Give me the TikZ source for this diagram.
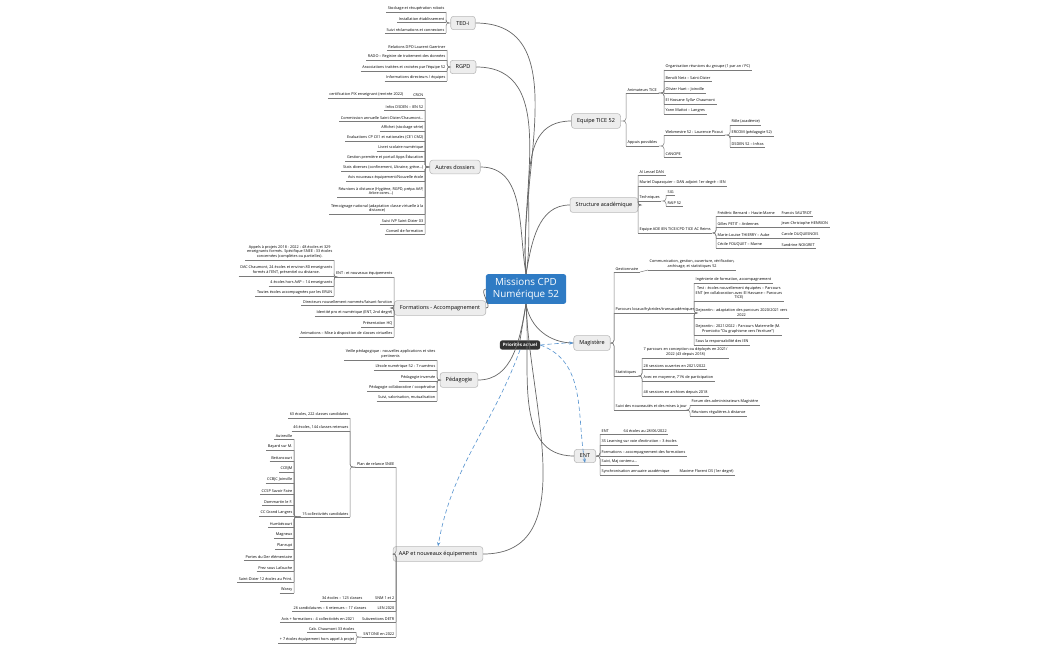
\documentclass[tikz,border=0pt]{standalone}
\usepackage{fontspec}
\setmainfont{Open Sans}
\usetikzlibrary{positioning,arrows.meta}
\definecolor{cpdblue}{HTML}{2F7BC4}
\definecolor{linegray}{HTML}{7A7A7A}
\begin{document}
\begin{tikzpicture}
    [x=0.025cm, y=-0.025cm,
    mainNode/.style={fill=cpdblue, text=white, rounded corners=1.5, align=center,
        font=\fontsize{7}{8.2}\selectfont, inner xsep=5pt, inner ysep=3pt},
    prioNode/.style={fill=black!80, text=white, rounded corners=1.5,
        font=\bfseries\fontsize{3.2}{4}\selectfont, inner sep=2pt},
    topic/.style={draw=gray!55, fill=gray!14, rounded corners=2,
        font=\fontsize{3.9}{4.5}\selectfont, inner xsep=4pt, minimum height=9pt},
    leafL/.style={anchor=south east, align=center, inner sep=1pt,
        font=\fontsize{2.7}{3.2}\selectfont,
        append after command={(\tikzlastnode.south west) edge[linegray, line width=0.35pt] (\tikzlastnode.south east)}},
    leafR/.style={leafL, anchor=south west},
    branch/.style={draw=linegray, line width=0.35pt, rounded corners=2},
    trunk/.style={draw=black!60, line width=0.5pt},
    prio/.style={draw=cpdblue!80, densely dashed, line width=0.45pt, -{Stealth[length=3pt]}}]

    \useasboundingbox (0,0) rectangle (1050,650);

    % centre
    \node[mainNode] (main) at (526,289) {Missions CPD\\Numérique 52};
    \node[prioNode] (prio) at (520,345) {Priorités actuel};

    % thèmes
    \node[topic] (ted) at (463,23) {TED-i};
    \node[topic] (rgpd) at (463,67) {RGPD};
    \node[topic] (autres) at (455,167) {Autres dossiers};
    \node[topic] (form) at (440,308) {Formations - Accompagnement};
    \node[topic] (peda) at (459,380) {Pédagogie};
    \node[topic] (aap) at (438,554) {AAP et nouveaux équipements};
    \node[topic] (tice) at (596,121) {Equipe TICE 52};
    \node[topic] (struct) at (604,205) {Structure académique};
    \node[topic] (magis) at (592,343) {Magistère};
    \node[topic] (ent) at (585,456) {ENT};

    % liens du centre
    \draw[trunk] (main.north) to[out=95,in=0] (ted.east);
    \draw[trunk] (main.north) to[out=95,in=0] (rgpd.east);
    \draw[trunk] (main.north) to[out=100,in=0] (autres.east);
    \draw[trunk] (main.west) to[out=190,in=0] (form.east);
    \draw[trunk] (main.south) to[out=-100,in=0] (peda.east);
    \draw[trunk] (main.south) to[out=-88,in=0] (aap.east);
    \draw[trunk] (main.north) to[out=80,in=180] (tice.west);
    \draw[trunk] (main.north) to[out=80,in=180] (struct.west);
    \draw[trunk] (main.south) to[out=-80,in=180] (magis.west);
    \draw[trunk] (main.south) to[out=-85,in=180] (ent.west);
    \draw[trunk] (main.south) -- (prio.north);

    % priorités
    \draw[prio] (prio.east) to[out=5,in=180] (magis.west);
    \draw[prio] (prio.east) to[out=-20,in=100] (ent.south);
    \draw[prio] (prio.south) to[out=-110,in=80] (aap.north);

    % TED-i
    \node[leafL] (t1) at (446,12) {Stockage et récupération robots};
    \node[leafL] (t2) at (446,22) {Installation établissement};
    \node[leafL] (t3) at (446,33) {Suivi réclamations et connexions};
    \foreach \n in {t1,t2,t3}
        \draw[branch] (ted.west) -| (\n.south east);

    % RGPD
    \node[leafL] (r1) at (447,50) {Relations DPO Laurent Gaertner};
    \node[leafL] (r2) at (447,60) {RADO – Registre de traitement des données};
    \node[leafL] (r3) at (447,71) {Associations traitées et croisées par l'équipe 52};
    \node[leafL] (r4) at (447,81) {Informations directeurs / équipes};
    \foreach \n in {r1,r2,r3,r4}
        \draw[branch] (rgpd.west) -| (\n.south east);

    % Autres dossiers
    \node[leafL] (crcn) at (425,98) {CRCN};
    \node[leafL] (pix) at (405,98) {certification PIX enseignant (rentrée 2022)};
    \draw[branch] (crcn.south west) -- (pix.south east);
    \node[leafL] (a1) at (425,110) {Infos DSDEN – IEN 52};
    \node[leafL] (a2) at (425,121) {Commission annuelle Saint-Dizier/Chaumont…};
    \node[leafL] (a3) at (425,131) {Affichet (stockage série)};
    \node[leafL] (a4) at (425,141) {Evaluations CP CE1 et nationales (CE1 CM2)};
    \node[leafL] (a5) at (425,151) {Livret scolaire numérique};
    \node[leafL] (a6) at (425,161) {Gestion première et portail Apps Éducation};
    \node[leafL] (a7) at (425,171) {Stats diverses (confinement, Ukraine, grève…)};
    \node[leafL] (a8) at (425,181) {Avis nouveaux équipement/Nouvelle école};
    \node[leafL] (a9) at (425,197) {Réunions à distance (Hygiène, RGPD, prépa AAP,\\Arbre ocres…)};
    \node[leafL] (a10) at (425,214) {Témoignage national (adaptation classe virtuelle à la\\distance)};
    \node[leafL] (a11) at (425,224) {Suivi IVP Saint-Dizier 03};
    \node[leafL] (a12) at (425,234) {Conseil de formation};
    \foreach \n in {crcn,a1,a2,a3,a4,a5,a6,a7,a8,a9,a10,a11,a12}
        \draw[branch] (autres.west) -| (\n.south east);

    % Formations - Accompagnement
    \node[leafL] (entn) at (394,277) {ENT : et nouveaux équipements};
    \node[leafL] (e1) at (334,260) {Appels à projets 2018 - 2022 : 48 écoles et 329\\enseignants formés. Spécifique SNEE : 33 écoles\\concernées (complètes ou partielles).};
    \node[leafL] (e2) at (334,276) {DAC Chaumont, 24 écoles et environ 80 enseignants\\formés à l'ENT, présentiel ou distance.};
    \node[leafL] (e3) at (334,286) {4 écoles hors AAP – 14 enseignants};
    \node[leafL] (e4) at (334,296) {Toutes écoles accompagnées par les ERUN};
    \foreach \n in {e1,e2,e3,e4}
        \draw[branch] (entn.south west) -| (\n.south east);
    \node[leafL] (f2) at (394,305) {Directeurs nouvellement nommés/faisant fonction};
    \node[leafL] (f3) at (394,316) {Identité pro et numérique (ENT, 2nd degré)};
    \node[leafL] (f4) at (394,327) {Présentation HQ};
    \node[leafL] (f5) at (394,337) {Animations – Mise à disposition de classes virtuelles};
    \foreach \n in {entn,f2,f3,f4,f5}
        \draw[branch] (form.west) -| (\n.south east);

    % Pédagogie
    \node[leafL] (p1) at (437,360) {Veille pédagogique : nouvelles applications et sites\\pertinents};
    \node[leafL] (p2) at (437,370) {L'école numérique 52 : 7 numéros};
    \node[leafL] (p3) at (437,381) {Pédagogie inversée};
    \node[leafL] (p4) at (437,391) {Pédagogie collaborative / coopérative};
    \node[leafL] (p5) at (437,401) {Suivi, valorisation, mutualisation};
    \foreach \n in {p1,p2,p3,p4,p5}
        \draw[branch] (peda.west) -| (\n.south east);

    % AAP et nouveaux équipements
    \node[leafL] (relance) at (396,467) {Plan de relance SNEE};
    \node[leafL] (s1) at (350,418) {63 écoles, 222 classes candidates};
    \node[leafL] (s2) at (350,431) {46 écoles, 144 classes retenues};
    \node[leafL] (coll) at (350,517) {15 collectivités candidates};
    \foreach \n in {s1,s2,coll}
        \draw[branch] (relance.south west) -| (\n.south east);
    \foreach \y/\t [count=\i] in {439/Autreville, 450/Bayard sur M., 461/Bettancourt, 472/CCBJM,
        483/CCBJC Joinville, 494/CCSP Savoir Faire, 505/Dommartin le F., 516/CC Grand Langres,
        527/Humbécourt, 538/Magneux, 549/Planrupt, 560/Portes du Der élémentaire,
        571/Prez sous Lafauche, 582/Saint-Dizier 12 écoles au Print., 593/Wassy}{
        \node[leafL] (c\i) at (294,\y) {\t};
        \draw[branch] (coll.south west) -| (c\i.south east);
    }
    \node[leafL] (snm) at (396,601) {SNM 1 et 2};
    \node[leafL] (snm1) at (364,601) {34 écoles – 123 classes};
    \node[leafL] (len) at (396,611) {LEN 2020};
    \node[leafL] (len1) at (368,611) {26 candidatures – 6 retenues – 17 classes};
    \node[leafL] (detr) at (396,622) {Subventions DETR};
    \node[leafL] (detr1) at (356,622) {Avis + formations : 4 collectivités en 2021};
    \node[leafL] (snt) at (396,637) {SNT DNE en 2022};
    \node[leafL] (n1) at (356,632) {Cab. Chaumont 33 écoles};
    \node[leafL] (n2) at (356,643) {+ 7 écoles équipement hors appel à projet};
    \draw[branch] (snm.south west) -- (snm1.south east);
    \draw[branch] (len.south west) -- (len1.south east);
    \draw[branch] (detr.south west) -- (detr1.south east);
    \foreach \n in {n1,n2}
        \draw[branch] (snt.south west) -| (\n.south east);
    \foreach \n in {relance,snm,len,detr,snt}
        \draw[branch] (aap.west) -| (\n.south east);

    % Equipe TICE 52
    \node[leafR] (anim) at (626,93) {Animateurs TICE};
    \node[leafR] (i1) at (664,70) {Organisation réunions du groupe (1 par an / PC)};
    \node[leafR] (i2) at (664,81) {Benoît Netz – Saint-Dizier};
    \node[leafR] (i3) at (664,93) {Olivier Huet – Joinville};
    \node[leafR] (i4) at (664,104) {El Hassane Sylla• Chaumont};
    \node[leafR] (i5) at (664,114) {Yann Mattot – Langres};
    \foreach \n in {i1,i2,i3,i4,i5}
        \draw[branch] (anim.south east) -| (\n.south west);
    \node[leafR] (appui) at (626,146) {Appuis possibles};
    \node[leafR] (web) at (664,135) {Webmestre 52 : Laurence Picout};
    \node[leafR] (w1) at (730,125) {Rôle (académie)};
    \node[leafR] (w2) at (730,136) {ERCOM (pédagogie 52)};
    \node[leafR] (w3) at (730,147) {DSDEN 52 – Infras};
    \foreach \n in {w1,w2,w3}
        \draw[branch] (web.south east) -| (\n.south west);
    \node[leafR] (canope) at (664,157) {CANOPE};
    \foreach \n in {web,canope}
        \draw[branch] (appui.south east) -| (\n.south west);
    \foreach \n in {anim,appui}
        \draw[branch] (tice.east) -| (\n.south west);

    % Structure académique
    \node[leafR] (st1) at (638,175) {AI Lessel DAN};
    \node[leafR] (st2) at (638,186) {Muriel Dupasquier – DAN adjoint 1er degré – IEN};
    \node[leafR] (tech) at (638,201) {Techniques};
    \node[leafR] (sig) at (666,195) {SIG};
    \node[leafR] (raip) at (666,206) {RAIP 52};
    \foreach \n in {sig,raip}
        \draw[branch] (tech.south east) -| (\n.south west);
    \node[leafR] (equipe) at (638,233) {Equipe ADE IEN TICE/CPD TICE AC Reims};
    \foreach \y/\a/\b [count=\i] in {216/Frédéric Bernard – Haute-Marne/Francis SAUTROT,
        227/Gilles PETIT – Ardennes/Jean-Christophe HENRION,
        238/Marie-Louise THIERRY – Aube/Carole DUQUESNOIS,
        248/Cécile FOUQUET – Marne/Sandrine NOIGRET}{
        \node[leafR] (q\i) at (716,\y) {\a};
        \node[leafR] (qq\i) at (780,\y) {\b};
        \draw[branch] (q\i.south east) -- (qq\i.south west);
        \draw[branch] (equipe.south east) -| (q\i.south west);
    }
    \foreach \n in {st1,st2,tech,equipe}
        \draw[branch] (struct.east) -| (\n.south west);

    % Magistère
    \node[leafR] (gest) at (614,272) {Gestionnaire};
    \node[leafR] (comm) at (648,270) {Communication, gestion, ouverture, vérification,\\archivage, et statistiques 52};
    \draw[branch] (gest.south east) -- (comm.south west);
    \node[leafR] (parc) at (614,313) {Parcours locaux/hybrides/transacadémiques};
    \node[leafR] (m1) at (694,283) {Ingénierie de formation, accompagnement};
    \node[leafR] (m2) at (694,301) {Test : écoles nouvellement équipées – Parcours\\ENT (en collaboration avec El Hassane – Parcours\\TICE)};
    \node[leafR] (m3) at (694,318) {Dejeantin : adaptation des parcours 2020/2021 vers\\2022};
    \node[leafR] (m4) at (694,335) {Dejeantin : 2021/2022 : Parcours Maternelle (M.\\Promiotto "Du graphisme vers l'écriture")};
    \node[leafR] (m5) at (694,345) {Sous la responsabilité des IEN};
    \foreach \n in {m1,m2,m3,m4,m5}
        \draw[branch] (parc.south east) -| (\n.south west);
    \node[leafR] (stat) at (614,376) {Statistiques};
    \node[leafR] (k1) at (642,358) {7 parcours en conception ou déployés en 2021/\\2022 (43 depuis 2018)};
    \node[leafR] (k2) at (642,369) {28 sessions ouvertes en 2021/2022};
    \node[leafR] (k3) at (642,381) {Avec en moyenne, 71\% de participation};
    \node[leafR] (k4) at (642,396) {48 sessions en archives depuis 2018};
    \foreach \n in {k1,k2,k3,k4}
        \draw[branch] (stat.south east) -| (\n.south west);
    \node[leafR] (suivi) at (614,410) {Suivi des nouveautés et des mises à jour};
    \node[leafR] (u1) at (690,405) {Forum des administrateurs Magistère};
    \node[leafR] (u2) at (690,416) {Réunions régulières à distance};
    \foreach \n in {u1,u2}
        \draw[branch] (suivi.south east) -| (\n.south west);
    \foreach \n in {gest,parc,stat,suivi}
        \draw[branch] (magis.east) -| (\n.south west);

    % ENT
    \node[leafR] (en1) at (600,434) {ENT};
    \node[leafR] (en1b) at (622,434) {64 écoles au 28/06/2022};
    \draw[branch] (en1.south east) -- (en1b.south west);
    \node[leafR] (en2) at (600,445) {3S Learning sur voie d'extinction – 3 écoles};
    \node[leafR] (en3) at (600,456) {Formations – accompagnement des formations};
    \node[leafR] (en4) at (600,465) {Suivi, Maj contenu…};
    \node[leafR] (en5) at (600,475) {Synchronisation annuaire académique};
    \node[leafR] (en5b) at (678,475) {Maxime Florent DS (1er degré)};
    \draw[branch] (en5.south east) -- (en5b.south west);
    \foreach \n in {en1,en2,en3,en4,en5}
        \draw[branch] (ent.east) -| (\n.south west);
\end{tikzpicture}
\end{document}
